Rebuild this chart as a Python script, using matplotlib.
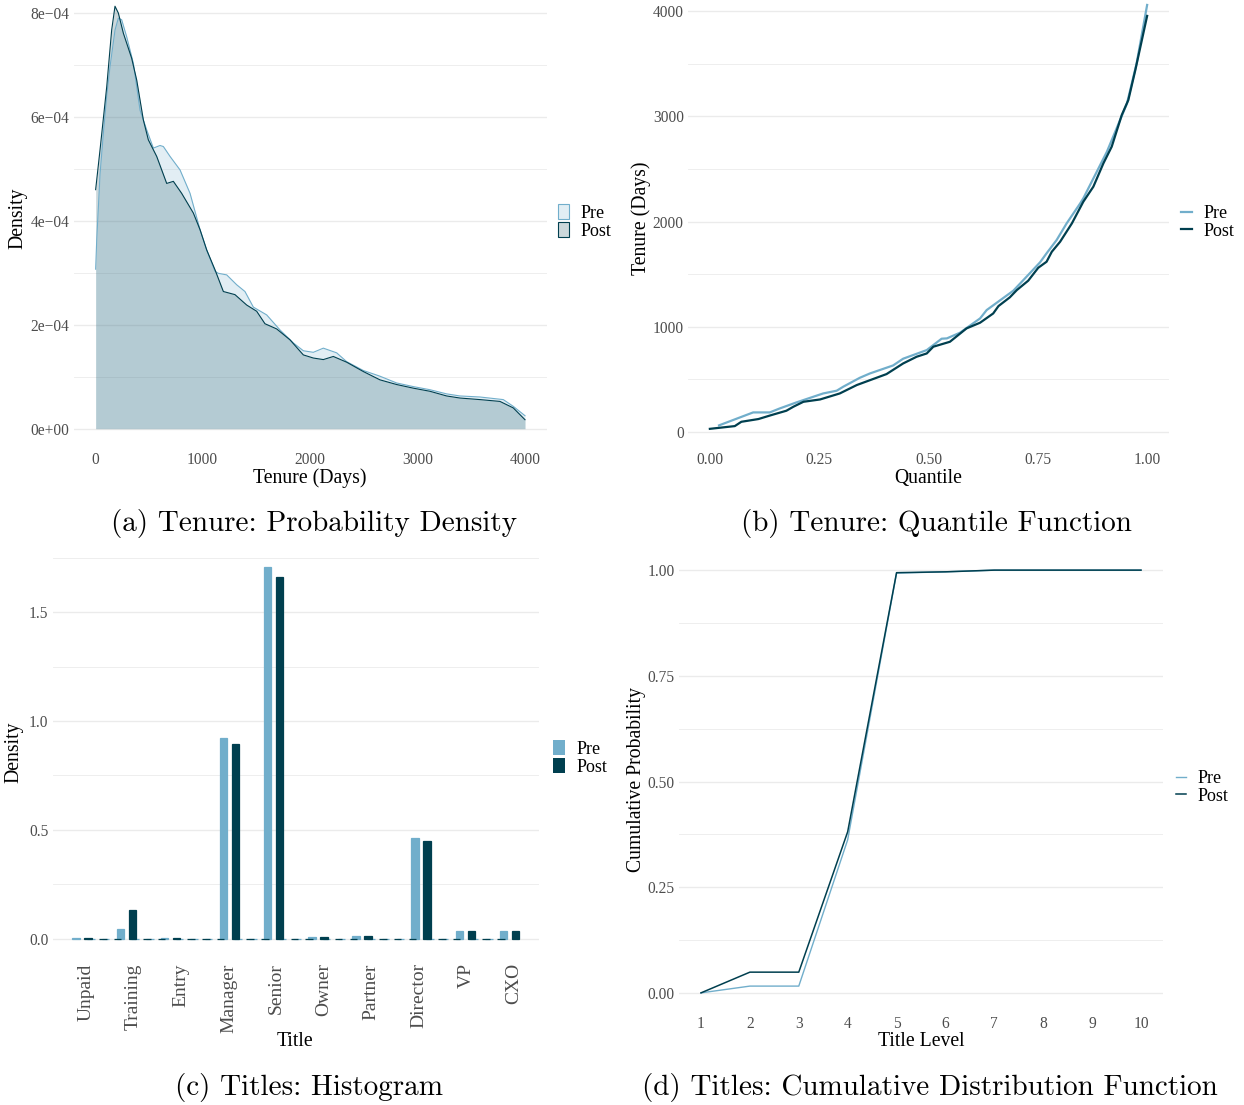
import numpy as np
import matplotlib
matplotlib.use("Agg")
import matplotlib.pyplot as plt
from matplotlib.ticker import MultipleLocator, FixedLocator
from matplotlib.patches import Patch
from matplotlib.lines import Line2D
from matplotlib.transforms import ScaledTranslation

# ---- data ----
# (a) tenure density, values in 1e-4
pre_days = [6, 16, 47, 78, 109, 140, 186, 217, 248, 295, 357, 419, 481, 543, 605, 636,
            698, 791, 884, 977, 1039, 1116, 1147, 1225, 1318, 1395, 1473, 1597, 1721,
            1845, 1938, 2031, 2124, 2248, 2341, 2496, 2651, 2806, 2961, 3116, 3271,
            3395, 3581, 3798, 3891, 4000]
pre_dens = [3.07, 3.63, 4.90, 5.69, 6.40, 6.97, 7.67, 7.90, 7.87, 7.54, 7.03, 6.13, 5.75,
            5.40, 5.45, 5.43, 5.24, 4.98, 4.53, 3.83, 3.44, 3.03, 2.99, 2.96, 2.77, 2.64,
            2.34, 2.19, 1.90, 1.65, 1.50, 1.47, 1.55, 1.46, 1.29, 1.12, 1.01, 0.88, 0.81,
            0.75, 0.67, 0.63, 0.61, 0.56, 0.43, 0.25]
post_days = [6, 47, 109, 155, 186, 217, 264, 341, 388, 450, 496, 574, 667, 729, 806, 915,
             977, 1039, 1116, 1194, 1302, 1411, 1504, 1581, 1690, 1814, 1938, 2031, 2124,
             2217, 2341, 2496, 2651, 2806, 2961, 3116, 3271, 3395, 3581, 3767, 3891, 4000]
post_dens = [4.60, 5.37, 6.58, 7.67, 8.13, 8.00, 7.61, 7.13, 6.71, 5.94, 5.56, 5.24, 4.72,
             4.76, 4.53, 4.15, 3.83, 3.44, 3.06, 2.64, 2.58, 2.38, 2.26, 2.02, 1.92, 1.71,
             1.42, 1.36, 1.33, 1.39, 1.28, 1.10, 0.94, 0.85, 0.78, 0.72, 0.63, 0.59, 0.56,
             0.525, 0.40, 0.173]

# (b) tenure quantile function
pre_q = [0.021, 0.099, 0.137, 0.160, 0.198, 0.259, 0.290, 0.305, 0.343, 0.366, 0.419,
         0.442, 0.496, 0.530, 0.542, 0.572, 0.618, 0.633, 0.694, 0.717, 0.755, 0.770,
         0.793, 0.816, 0.847, 0.854, 0.908, 0.954, 0.976, 1.0]
pre_v = [64, 187, 187, 225, 282, 367, 393, 431, 516, 557, 633, 697, 779, 887, 890, 944,
         1080, 1159, 1343, 1444, 1612, 1698, 1824, 1983, 2173, 2220, 2663, 3123, 3503, 4057]
post_q = [0.0, 0.057, 0.072, 0.111, 0.141, 0.175, 0.191, 0.214, 0.252, 0.297, 0.336,
          0.404, 0.442, 0.473, 0.496, 0.511, 0.549, 0.587, 0.618, 0.648, 0.660, 0.686,
          0.702, 0.728, 0.751, 0.770, 0.782, 0.801, 0.828, 0.854, 0.877, 0.900, 0.919,
          0.942, 0.957, 0.973, 1.0]
post_v = [31, 57, 98, 124, 162, 203, 241, 288, 310, 367, 447, 551, 652, 716, 747, 811,
          858, 985, 1039, 1127, 1197, 1280, 1349, 1438, 1561, 1618, 1713, 1808, 1983,
          2188, 2331, 2553, 2711, 3012, 3154, 3439, 3953]

# (c) titles histogram (density)
titles = ["Unpaid", "Training", "Entry", "Manager", "Senior", "Owner", "Partner",
          "Director", "VP", "CXO"]
pre_hist = [0.005, 0.046, 0.003, 0.922, 1.706, 0.007, 0.013, 0.463, 0.037, 0.038]
post_hist = [0.004, 0.133, 0.005, 0.894, 1.66, 0.010, 0.015, 0.450, 0.037, 0.035]
n_bins = 30

# (d) titles CDF
levels = [1, 2, 3, 4, 5, 6, 7, 8, 9, 10]
pre_cdf = [0.0, 0.016, 0.016, 0.362, 0.993, 0.996, 1.0, 1.0, 1.0, 1.0]
post_cdf = [0.0, 0.049, 0.049, 0.381, 0.994, 0.996, 1.0, 1.0, 1.0, 1.0]

# ---- style ----
W, H = 1244, 1105
PRE = "#71AECB"
POST = "#003F4F"
GRID = "#EBEBEB"
TICK = "#4D4D4D"
plt.rcParams["font.family"] = ["Liberation Serif", "DejaVu Serif"]
TICK_FS = 11.2
LAB_FS = 14.2
LEG_FS = 13
CAP_FS = 21

fig = plt.figure(figsize=(W / 100, H / 100), dpi=100)


def px_axes(l, t, r, b):
    return fig.add_axes([l / W, 1 - b / H, (r - l) / W, (b - t) / H])


def style(ax, major, minor):
    for s in ax.spines.values():
        s.set_visible(False)
    ax.yaxis.set_major_locator(MultipleLocator(major))
    ax.yaxis.set_minor_locator(MultipleLocator(minor))
    ax.tick_params(which="both", length=0, labelsize=TICK_FS, labelcolor=TICK, pad=3)
    ax.tick_params(axis="x", pad=1.2)
    ax.grid(axis="y", which="major", color=GRID, lw=1.0)
    ax.grid(axis="y", which="minor", color=GRID, lw=0.6)
    ax.set_axisbelow(True)


def labels(ax, xl, xpos, yl, ypos):
    ax.set_xlabel(xl, fontsize=LAB_FS, color="black")
    ax.set_ylabel(yl, fontsize=LAB_FS, color="black")
    ax.xaxis.set_label_coords(xpos[0] / W, 1 - xpos[1] / H, transform=fig.transFigure)
    ax.yaxis.set_label_coords(ypos[0] / W, 1 - ypos[1] / H, transform=fig.transFigure)
    ax.xaxis.label.set_va("center")
    ax.yaxis.label.set_va("center")


def legend(handles, names, x, y, **kw):
    fig.legend(handles, names, loc="center left", bbox_to_anchor=(x / W, 1 - y / H),
               bbox_transform=fig.transFigure, frameon=False, fontsize=LEG_FS,
               borderpad=0, borderaxespad=0, labelspacing=0.02, **kw)


def caption(s, x, y):
    fig.text(x / W, 1 - y / H, s, family="cmr10", fontsize=CAP_FS, ha="center", va="center")


# ---- (a) density ----
ax = px_axes(73.5, 0, 546.5, 450)
style(ax, 2e-4, 1e-4)
pre_d = np.array(pre_dens) * 1e-4
post_d = np.array(post_dens) * 1e-4
ax.fill_between(pre_days, 0, pre_d, color=PRE, alpha=0.2, lw=0)
ax.plot(pre_days, pre_d, color=PRE, lw=0.8)
ax.fill_between(post_days, 0, post_d, color=POST, alpha=0.2, lw=0)
ax.plot(post_days, post_d, color=POST, lw=0.8)
ax.set_xlim(-200, 4200)
ax.set_ylim(-0.41e-4, 8.25e-4)
ax.set_xticks([0, 1000, 2000, 3000, 4000])
ax.yaxis.set_major_locator(FixedLocator([0, 2e-4, 4e-4, 6e-4, 8e-4]))
ax.set_yticklabels(["0e+00", "2e\u221204", "4e\u221204", "6e\u221204", "8e\u221204"])
labels(ax, "Tenure (Days)", (310, 478), "Density", (18, 218))
legend([Patch(facecolor=(*matplotlib.colors.to_rgb(PRE), 0.2), edgecolor=PRE, lw=0.8),
        Patch(facecolor=(*matplotlib.colors.to_rgb(POST), 0.2), edgecolor=POST, lw=0.8)],
       ["Pre", "Post"], 558, 222, handlelength=0.62, handleheight=0.9, handletextpad=0.6)
caption("(a) Tenure: Probability Density", 314, 523)

# ---- (b) quantile function ----
ax = px_axes(688, 0, 1169, 450)
style(ax, 1000, 500)
ax.plot(pre_q, pre_v, color=PRE, lw=1.6)
ax.plot(post_q, post_v, color=POST, lw=1.6)
ax.set_xlim(-0.05, 1.05)
ax.set_ylim(-170, 4104)
ax.set_xticks([0, 0.25, 0.5, 0.75, 1.0])
ax.set_xticklabels(["0.00", "0.25", "0.50", "0.75", "1.00"])
labels(ax, "Quantile", (928, 478), "Tenure (Days)", (641, 218))
legend([Line2D([], [], color=PRE, lw=1.6), Line2D([], [], color=POST, lw=1.6)],
       ["Pre", "Post"], 1181, 222.5, handlelength=0.62, handletextpad=0.6)
caption("(b) Tenure: Quantile Function", 936, 523)

# ---- (c) histogram ----
ax = px_axes(52.6, 547.6, 539, 957.6)
style(ax, 0.5, 0.25)
width = 9 / (n_bins - 1)
centers = 1 + np.arange(n_bins) * width
cat_bin = np.rint((np.arange(1, len(titles) + 1) - 1) / width).astype(int)
pre_bins = np.zeros(n_bins)
post_bins = np.zeros(n_bins)
pre_bins[cat_bin] = pre_hist
post_bins[cat_bin] = post_hist
ax.bar(centers - 0.126, pre_bins, width=0.158, color=PRE, edgecolor=PRE, lw=0.9)
ax.bar(centers + 0.126, post_bins, width=0.158, color=POST, edgecolor=POST, lw=0.9)
ax.set_xlim(0.38, 10.62)
ax.set_ylim(-0.0855, 1.7955)
ax.set_yticks([0, 0.5, 1.0, 1.5])
ax.set_yticklabels(["0.0", "0.5", "1.0", "1.5"])
ax.set_xticks(np.arange(1, len(titles) + 1))
ax.set_xticklabels(titles, rotation=90, va="top", ha="center")
ax.tick_params(axis="x", labelsize=14, pad=4)
shift = ScaledTranslation(4 / 100, 0, fig.dpi_scale_trans)
for lab in ax.get_xticklabels():
    lab.set_transform(lab.get_transform() + shift)
labels(ax, "Title", (295, 1041), "Density", (14, 752))
legend([Patch(facecolor=PRE), Patch(facecolor=POST)], ["Pre", "Post"], 553, 758,
       handlelength=0.68, handleheight=0.9, handletextpad=0.6)
caption("(c) Titles: Histogram", 309, 1087)

# ---- (d) CDF ----
ax = px_axes(679, 549, 1163, 1014)
style(ax, 0.25, 0.125)
ax.plot(levels, pre_cdf, color=PRE, lw=1.0)
ax.plot(levels, post_cdf, color=POST, lw=1.1)
ax.set_xlim(0.55, 10.45)
ax.set_ylim(-0.05, 1.05)
ax.set_xticks(levels)
ax.set_yticks([0, 0.25, 0.5, 0.75, 1.0])
ax.set_yticklabels(["0.00", "0.25", "0.50", "0.75", "1.00"])
labels(ax, "Title Level", (921, 1042), "Cumulative Probability", (636, 780))
legend([Line2D([], [], color=PRE, lw=1.0), Line2D([], [], color=POST, lw=1.1)],
       ["Pre", "Post"], 1176, 787.5, handlelength=0.58, handletextpad=0.6)
caption("(d) Titles: Cumulative Distribution Function", 930, 1087)

fig.savefig("out.png", dpi=100)
